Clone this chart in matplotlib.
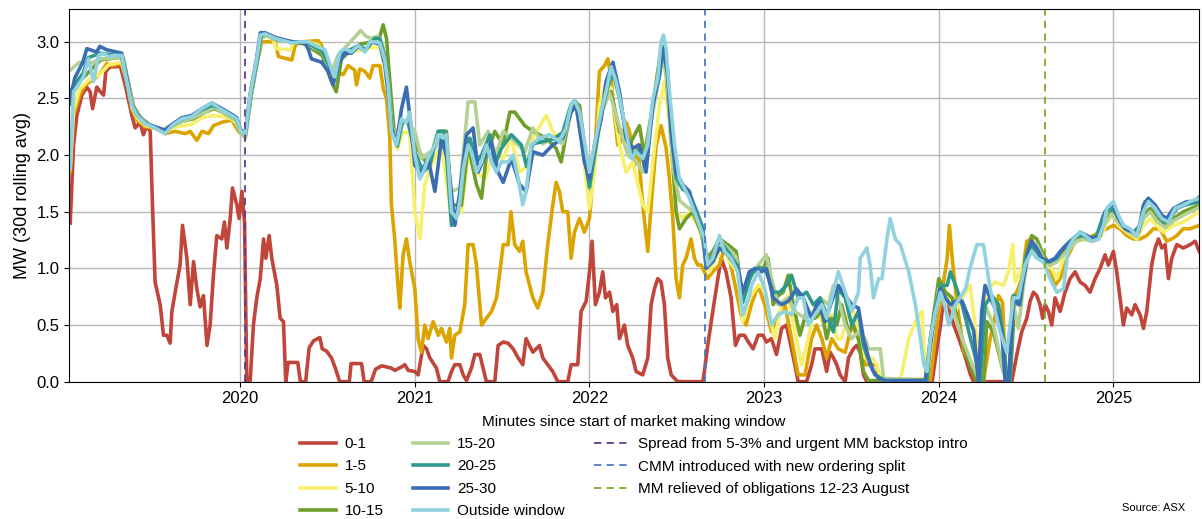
import numpy as np
import matplotlib
matplotlib.use("Agg")
import matplotlib.pyplot as plt
from matplotlib.lines import Line2D

plt.rcParams['font.family'] = ['Liberation Sans', 'DejaVu Sans']

# 30-day rolling average MW by minute bucket, (decimal year, MW)
mw_0_1 = [
    (2019.027, 1.40), (2019.046, 2.09), (2019.065, 2.35), (2019.094, 2.53), (2019.122, 2.60),
    (2019.141, 2.56), (2019.155, 2.41), (2019.179, 2.60), (2019.199, 2.56), (2019.218, 2.53),
    (2019.231, 2.74), (2019.256, 2.78), (2019.294, 2.78), (2019.313, 2.79), (2019.342, 2.62),
    (2019.380, 2.35), (2019.399, 2.24), (2019.427, 2.29), (2019.446, 2.18), (2019.465, 2.26),
    (2019.485, 2.21), (2019.498, 1.56), (2019.513, 0.88), (2019.542, 0.68), (2019.561, 0.41),
    (2019.580, 0.41), (2019.599, 0.34), (2019.609, 0.62), (2019.628, 0.79), (2019.656, 1.03),
    (2019.670, 1.38), (2019.695, 1.09), (2019.714, 0.68), (2019.733, 1.06), (2019.752, 0.82),
    (2019.771, 0.66), (2019.790, 0.76), (2019.810, 0.32), (2019.828, 0.50), (2019.847, 0.94),
    (2019.866, 1.29), (2019.895, 1.26), (2019.910, 1.41), (2019.924, 1.18), (2019.943, 1.44),
    (2019.956, 1.71), (2019.981, 1.56), (2019.994, 1.44), (2020.010, 1.68), (2020.025, 1.41),
    (2020.038, 0.00), (2020.057, 0.00), (2020.076, 0.50), (2020.095, 0.74), (2020.115, 0.91),
    (2020.134, 1.26), (2020.147, 1.09), (2020.166, 1.29), (2020.181, 1.09), (2020.210, 0.85),
    (2020.229, 0.56), (2020.248, 0.53), (2020.261, 0.00), (2020.275, 0.17), (2020.330, 0.17),
    (2020.345, 0.00), (2020.375, 0.00), (2020.395, 0.30), (2020.420, 0.36), (2020.456, 0.39),
    (2020.470, 0.29), (2020.495, 0.27), (2020.523, 0.21), (2020.545, 0.12), (2020.570, 0.00),
    (2020.625, 0.00), (2020.635, 0.16), (2020.695, 0.16), (2020.710, 0.00), (2020.750, 0.00),
    (2020.775, 0.11), (2020.811, 0.14), (2020.866, 0.12), (2020.885, 0.10), (2020.924, 0.13),
    (2020.943, 0.15), (2020.962, 0.10), (2021.000, 0.09), (2021.019, 0.06), (2021.048, 0.32),
    (2021.067, 0.29), (2021.086, 0.21), (2021.124, 0.12), (2021.143, 0.00), (2021.190, 0.00),
    (2021.210, 0.09), (2021.229, 0.15), (2021.258, 0.15), (2021.277, 0.06), (2021.296, 0.01),
    (2021.324, 0.12), (2021.344, 0.24), (2021.372, 0.24), (2021.391, 0.12), (2021.410, 0.00),
    (2021.458, 0.00), (2021.477, 0.32), (2021.506, 0.35), (2021.534, 0.34), (2021.563, 0.29),
    (2021.592, 0.21), (2021.618, 0.15), (2021.637, 0.38), (2021.656, 0.32), (2021.676, 0.26),
    (2021.714, 0.32), (2021.733, 0.21), (2021.761, 0.15), (2021.790, 0.09), (2021.819, 0.00),
    (2021.876, 0.00), (2021.895, 0.15), (2021.933, 0.15), (2021.952, 0.62), (2021.981, 0.71),
    (2022.000, 0.97), (2022.015, 1.24), (2022.034, 0.68), (2022.057, 0.79), (2022.076, 0.97),
    (2022.092, 0.74), (2022.115, 0.79), (2022.134, 0.62), (2022.156, 0.68), (2022.172, 0.38),
    (2022.200, 0.50), (2022.219, 0.32), (2022.248, 0.21), (2022.267, 0.09), (2022.305, 0.06),
    (2022.334, 0.21), (2022.353, 0.68), (2022.372, 0.82), (2022.391, 0.91), (2022.410, 0.88),
    (2022.429, 0.68), (2022.448, 0.21), (2022.468, 0.06), (2022.506, 0.00), (2022.649, 0.00),
    (2022.658, 0.09), (2022.677, 0.32), (2022.706, 0.62), (2022.735, 0.91), (2022.754, 1.09),
    (2022.782, 0.97), (2022.811, 0.74), (2022.836, 0.32), (2022.859, 0.41), (2022.887, 0.41),
    (2022.910, 0.35), (2022.937, 0.29), (2022.966, 0.41), (2022.994, 0.41), (2023.013, 0.35),
    (2023.042, 0.38), (2023.071, 0.24), (2023.100, 0.47), (2023.128, 0.50), (2023.157, 0.29),
    (2023.176, 0.15), (2023.195, 0.00), (2023.243, 0.00), (2023.272, 0.15), (2023.291, 0.29),
    (2023.330, 0.29), (2023.358, 0.09), (2023.378, 0.26), (2023.397, 0.21), (2023.416, 0.15),
    (2023.435, 0.06), (2023.464, 0.00), (2023.483, 0.21), (2023.511, 0.29), (2023.530, 0.32),
    (2023.550, 0.26), (2023.569, 0.06), (2023.588, 0.00), (2023.962, 0.00), (2023.981, 0.21),
    (2024.010, 0.50), (2024.029, 0.74), (2024.048, 0.76), (2024.067, 0.59), (2024.086, 0.50),
    (2024.115, 0.38), (2024.153, 0.21), (2024.182, 0.06), (2024.200, 0.00), (2024.418, 0.00),
    (2024.447, 0.24), (2024.475, 0.44), (2024.504, 0.56), (2024.523, 0.71), (2024.542, 0.79),
    (2024.561, 0.76), (2024.580, 0.68), (2024.595, 0.56), (2024.609, 0.68), (2024.628, 0.62),
    (2024.647, 0.50), (2024.666, 0.74), (2024.695, 0.62), (2024.723, 0.79), (2024.752, 0.91),
    (2024.781, 0.97), (2024.809, 0.88), (2024.838, 0.85), (2024.866, 0.79), (2024.895, 0.91),
    (2024.924, 1.00), (2024.952, 1.12), (2024.971, 1.03), (2025.000, 1.15), (2025.019, 0.97),
    (2025.038, 0.74), (2025.057, 0.50), (2025.076, 0.65), (2025.105, 0.59), (2025.124, 0.68),
    (2025.153, 0.59), (2025.172, 0.47), (2025.191, 0.62), (2025.219, 1.03), (2025.239, 1.18),
    (2025.258, 1.26), (2025.277, 1.18), (2025.296, 1.21), (2025.315, 0.91), (2025.334, 1.09),
    (2025.363, 1.21), (2025.400, 1.18), (2025.439, 1.21), (2025.468, 1.24), (2025.492, 1.15),
]

mw_1_5 = [
    (2019.027, 1.85), (2019.046, 2.35), (2019.084, 2.54), (2019.113, 2.62), (2019.170, 2.68),
    (2019.208, 2.74), (2019.237, 2.81), (2019.265, 2.79), (2019.323, 2.81), (2019.351, 2.65),
    (2019.380, 2.41), (2019.408, 2.31), (2019.456, 2.25), (2019.513, 2.24), (2019.571, 2.19),
    (2019.628, 2.21), (2019.685, 2.19), (2019.714, 2.21), (2019.752, 2.13), (2019.781, 2.21),
    (2019.819, 2.19), (2019.847, 2.26), (2019.895, 2.29), (2019.952, 2.31), (2019.990, 2.21),
    (2020.029, 2.16), (2020.057, 2.47), (2020.095, 2.81), (2020.124, 3.00), (2020.200, 3.00),
    (2020.219, 2.87), (2020.296, 2.84), (2020.315, 2.97), (2020.344, 3.00), (2020.447, 3.01),
    (2020.466, 2.97), (2020.523, 2.68), (2020.551, 2.74), (2020.590, 2.71), (2020.618, 2.79),
    (2020.656, 2.75), (2020.666, 2.62), (2020.685, 2.76), (2020.714, 2.74), (2020.742, 2.68),
    (2020.761, 2.79), (2020.800, 2.79), (2020.819, 2.59), (2020.838, 2.50), (2020.857, 2.15),
    (2020.866, 1.56), (2020.885, 1.26), (2020.905, 0.82), (2020.914, 0.65), (2020.933, 1.12),
    (2020.952, 1.26), (2020.971, 1.06), (2021.000, 0.82), (2021.019, 0.38), (2021.038, 0.26),
    (2021.057, 0.50), (2021.076, 0.38), (2021.105, 0.53), (2021.134, 0.41), (2021.153, 0.47),
    (2021.181, 0.35), (2021.200, 0.47), (2021.210, 0.21), (2021.229, 0.41), (2021.258, 0.44),
    (2021.286, 0.68), (2021.305, 1.21), (2021.334, 1.21), (2021.353, 1.03), (2021.382, 0.50),
    (2021.410, 0.56), (2021.439, 0.62), (2021.468, 0.74), (2021.487, 0.97), (2021.506, 1.21),
    (2021.534, 1.21), (2021.550, 1.50), (2021.572, 1.21), (2021.600, 1.15), (2021.618, 1.24),
    (2021.637, 0.97), (2021.676, 0.74), (2021.704, 0.65), (2021.733, 0.79), (2021.761, 1.21),
    (2021.790, 1.56), (2021.809, 1.76), (2021.828, 1.68), (2021.847, 1.50), (2021.876, 1.50),
    (2021.895, 1.09), (2021.914, 1.32), (2021.943, 1.44), (2021.971, 1.32), (2022.000, 1.44),
    (2022.010, 1.62), (2022.029, 1.97), (2022.057, 2.74), (2022.086, 2.79), (2022.105, 2.85),
    (2022.124, 2.68), (2022.143, 2.35), (2022.162, 2.09), (2022.181, 2.12), (2022.210, 2.29),
    (2022.229, 2.21), (2022.258, 1.91), (2022.277, 2.09), (2022.305, 1.56), (2022.334, 1.15),
    (2022.353, 1.56), (2022.382, 2.09), (2022.410, 2.26), (2022.439, 2.06), (2022.458, 1.79),
    (2022.477, 1.44), (2022.496, 0.91), (2022.515, 0.74), (2022.534, 1.03), (2022.553, 1.09),
    (2022.582, 1.26), (2022.601, 1.09), (2022.620, 1.03), (2022.639, 1.03), (2022.658, 0.97),
    (2022.677, 0.91), (2022.706, 0.97), (2022.744, 1.03), (2022.773, 1.18), (2022.801, 1.09),
    (2022.830, 0.88), (2022.868, 0.59), (2022.897, 0.50), (2022.927, 0.68), (2022.966, 0.85),
    (2023.004, 0.68), (2023.042, 0.44), (2023.080, 0.59), (2023.119, 0.68), (2023.157, 0.38),
    (2023.195, 0.06), (2023.234, 0.06), (2023.272, 0.38), (2023.300, 0.50), (2023.330, 0.38),
    (2023.358, 0.21), (2023.387, 0.38), (2023.425, 0.29), (2023.464, 0.26), (2023.502, 0.50),
    (2023.540, 0.38), (2023.579, 0.15), (2023.646, 0.15), (2023.656, 0.02), (2023.952, 0.02),
    (2023.990, 0.50), (2024.019, 0.79), (2024.048, 1.09), (2024.061, 1.38), (2024.077, 1.09),
    (2024.105, 0.68), (2024.144, 0.26), (2024.192, 0.15), (2024.218, 0.00), (2024.256, 0.00),
    (2024.294, 0.38), (2024.313, 0.50), (2024.342, 0.76), (2024.365, 0.70), (2024.385, 0.00),
    (2024.405, 0.00), (2024.420, 0.74), (2024.447, 0.79), (2024.475, 0.91), (2024.504, 1.24),
    (2024.532, 1.26), (2024.561, 1.15), (2024.599, 1.09), (2024.637, 0.97), (2024.666, 0.85),
    (2024.695, 0.91), (2024.733, 1.09), (2024.771, 1.21), (2024.809, 1.29), (2024.847, 1.26),
    (2024.885, 1.29), (2024.924, 1.32), (2024.962, 1.35), (2025.000, 1.38), (2025.038, 1.35),
    (2025.076, 1.29), (2025.115, 1.26), (2025.153, 1.26), (2025.191, 1.29), (2025.229, 1.35),
    (2025.267, 1.35), (2025.305, 1.24), (2025.334, 1.26), (2025.363, 1.29), (2025.400, 1.35),
    (2025.439, 1.35), (2025.492, 1.38),
]

mw_5_10 = [
    (2019.027, 1.90), (2019.046, 2.40), (2019.080, 2.58), (2019.130, 2.66), (2019.200, 2.72),
    (2019.250, 2.80), (2019.320, 2.82), (2019.350, 2.66), (2019.380, 2.42), (2019.410, 2.33),
    (2019.460, 2.26), (2019.520, 2.24), (2019.570, 2.20), (2019.610, 2.24), (2019.670, 2.26),
    (2019.720, 2.27), (2019.780, 2.33), (2019.840, 2.35), (2019.900, 2.34), (2019.950, 2.32),
    (2019.980, 2.28), (2020.000, 2.20), (2020.030, 2.18), (2020.060, 2.50), (2020.100, 2.85),
    (2020.120, 3.03), (2020.150, 3.05), (2020.190, 3.02), (2020.205, 2.94), (2020.290, 2.93),
    (2020.305, 3.00), (2020.390, 3.00), (2020.450, 2.97), (2020.500, 2.80), (2020.530, 2.72),
    (2020.570, 2.87), (2020.620, 2.90), (2020.660, 2.92), (2020.700, 2.93), (2020.740, 2.95),
    (2020.800, 2.95), (2020.830, 2.75), (2020.850, 2.50), (2020.870, 2.20), (2020.900, 2.05),
    (2020.930, 2.20), (2020.970, 2.20), (2021.000, 1.50), (2021.029, 1.26), (2021.057, 1.74),
    (2021.095, 1.91), (2021.153, 2.09), (2021.210, 1.44), (2021.267, 1.50), (2021.305, 2.00),
    (2021.353, 1.85), (2021.401, 1.79), (2021.458, 2.06), (2021.506, 1.97), (2021.553, 2.15),
    (2021.600, 1.85), (2021.640, 1.90), (2021.676, 2.15), (2021.752, 2.35), (2021.790, 2.21),
    (2021.838, 2.12), (2021.885, 2.38), (2021.914, 2.47), (2021.952, 2.18), (2022.000, 1.53),
    (2022.029, 1.85), (2022.057, 2.44), (2022.095, 2.65), (2022.124, 2.59), (2022.172, 2.09),
    (2022.210, 1.85), (2022.248, 1.94), (2022.305, 1.56), (2022.334, 1.50), (2022.363, 1.94),
    (2022.401, 2.44), (2022.430, 2.65), (2022.458, 2.29), (2022.477, 1.85), (2022.496, 1.50),
    (2022.534, 1.44), (2022.572, 1.50), (2022.620, 1.38), (2022.649, 1.26), (2022.687, 0.97),
    (2022.725, 1.09), (2022.763, 1.21), (2022.801, 1.06), (2022.849, 0.97), (2022.878, 0.53),
    (2022.916, 0.74), (2022.966, 0.85), (2023.004, 0.82), (2023.033, 0.56), (2023.061, 0.38),
    (2023.100, 0.68), (2023.138, 0.76), (2023.176, 0.44), (2023.214, 0.15), (2023.253, 0.38),
    (2023.282, 0.62), (2023.320, 0.56), (2023.349, 0.50), (2023.387, 0.59), (2023.416, 0.38),
    (2023.444, 0.38), (2023.464, 0.50), (2023.502, 0.68), (2023.540, 0.44), (2023.579, 0.21),
    (2023.617, 0.21), (2023.646, 0.15), (2023.665, 0.03), (2023.780, 0.01), (2023.828, 0.38),
    (2023.866, 0.53), (2023.904, 0.62), (2023.923, 0.09), (2023.952, 0.38), (2023.981, 0.59),
    (2024.019, 0.85), (2024.057, 0.74), (2024.096, 0.62), (2024.134, 0.74), (2024.179, 0.85),
    (2024.218, 0.38), (2024.237, 0.00), (2024.256, 0.53), (2024.284, 0.82), (2024.323, 0.88),
    (2024.370, 0.85), (2024.399, 0.97), (2024.424, 1.21), (2024.437, 0.88), (2024.466, 0.97),
    (2024.494, 1.09), (2024.532, 1.21), (2024.570, 1.12), (2024.609, 1.03), (2024.647, 1.00),
    (2024.676, 0.91), (2024.714, 1.09), (2024.752, 1.18), (2024.790, 1.24), (2024.838, 1.26),
    (2024.885, 1.24), (2024.933, 1.29), (2024.962, 1.41), (2025.000, 1.47), (2025.029, 1.38),
    (2025.076, 1.32), (2025.134, 1.26), (2025.172, 1.38), (2025.210, 1.44), (2025.248, 1.38),
    (2025.286, 1.32), (2025.344, 1.38), (2025.401, 1.41), (2025.492, 1.50),
]

mw_10_15 = [
    (2019.027, 2.55), (2019.050, 2.62), (2019.100, 2.68), (2019.150, 2.76), (2019.200, 2.84),
    (2019.300, 2.86), (2019.330, 2.86), (2019.360, 2.64), (2019.390, 2.43), (2019.430, 2.33),
    (2019.480, 2.27), (2019.550, 2.21), (2019.600, 2.26), (2019.670, 2.30), (2019.730, 2.32),
    (2019.800, 2.38), (2019.850, 2.41), (2019.900, 2.38), (2019.950, 2.33), (2019.980, 2.31),
    (2020.000, 2.20), (2020.030, 2.17), (2020.060, 2.50), (2020.100, 2.85), (2020.120, 3.04),
    (2020.150, 3.06), (2020.200, 3.02), (2020.300, 3.00), (2020.370, 2.98), (2020.420, 2.93),
    (2020.470, 2.88), (2020.520, 2.66), (2020.550, 2.56), (2020.580, 2.85), (2020.630, 2.92),
    (2020.690, 2.98), (2020.750, 3.00), (2020.800, 3.05), (2020.819, 3.15), (2020.838, 3.03),
    (2020.857, 2.65), (2020.885, 2.15), (2020.924, 2.30), (2020.960, 2.30), (2021.000, 2.09),
    (2021.076, 1.91), (2021.134, 2.21), (2021.181, 2.21), (2021.210, 1.56), (2021.267, 1.56),
    (2021.305, 2.09), (2021.353, 1.74), (2021.382, 1.62), (2021.410, 2.00), (2021.458, 2.21),
    (2021.506, 2.09), (2021.544, 2.38), (2021.572, 2.38), (2021.630, 2.26), (2021.676, 2.21),
    (2021.752, 2.15), (2021.809, 2.06), (2021.838, 1.94), (2021.866, 2.18), (2021.905, 2.47),
    (2021.943, 2.44), (2021.971, 2.09), (2022.000, 1.79), (2022.038, 2.15), (2022.076, 2.44),
    (2022.124, 2.56), (2022.172, 2.21), (2022.229, 2.09), (2022.286, 2.26), (2022.315, 2.00),
    (2022.363, 2.44), (2022.410, 2.94), (2022.439, 2.74), (2022.468, 2.15), (2022.496, 1.50),
    (2022.515, 1.35), (2022.553, 1.44), (2022.592, 1.50), (2022.639, 1.32), (2022.668, 1.09),
    (2022.706, 1.15), (2022.744, 1.26), (2022.792, 1.21), (2022.840, 1.15), (2022.878, 0.74),
    (2022.916, 0.97), (2022.947, 0.97), (2022.994, 1.00), (2023.023, 1.09), (2023.052, 0.68),
    (2023.080, 0.76), (2023.109, 0.79), (2023.138, 0.94), (2023.167, 0.68), (2023.205, 0.41),
    (2023.243, 0.62), (2023.291, 0.56), (2023.330, 0.62), (2023.358, 0.38), (2023.387, 0.56),
    (2023.416, 0.50), (2023.444, 0.68), (2023.483, 0.44), (2023.511, 0.50), (2023.540, 0.38),
    (2023.569, 0.09), (2023.598, 0.01), (2023.923, 0.01), (2023.952, 0.38), (2024.000, 0.91),
    (2024.038, 0.79), (2024.077, 0.74), (2024.115, 0.50), (2024.153, 0.26), (2024.192, 0.09),
    (2024.218, 0.00), (2024.256, 0.00), (2024.275, 0.53), (2024.313, 0.44), (2024.370, 0.09),
    (2024.408, 0.00), (2024.437, 0.76), (2024.466, 0.68), (2024.494, 1.09), (2024.532, 1.29),
    (2024.561, 1.26), (2024.599, 1.12), (2024.637, 1.03), (2024.676, 1.06), (2024.714, 1.15),
    (2024.752, 1.21), (2024.790, 1.26), (2024.828, 1.29), (2024.876, 1.24), (2024.914, 1.26),
    (2024.952, 1.41), (2024.990, 1.50), (2025.029, 1.41), (2025.076, 1.35), (2025.134, 1.29),
    (2025.172, 1.47), (2025.210, 1.53), (2025.248, 1.44), (2025.296, 1.38), (2025.344, 1.44),
    (2025.401, 1.50), (2025.492, 1.56),
]

mw_15_20 = [
    (2019.027, 2.75), (2019.080, 2.82), (2019.130, 2.80), (2019.200, 2.85), (2019.300, 2.86),
    (2019.330, 2.85), (2019.360, 2.62), (2019.390, 2.42), (2019.430, 2.32), (2019.480, 2.26),
    (2019.550, 2.22), (2019.600, 2.25), (2019.670, 2.30), (2019.730, 2.33), (2019.800, 2.38),
    (2019.850, 2.42), (2019.900, 2.38), (2019.950, 2.33), (2019.980, 2.30), (2020.000, 2.20),
    (2020.030, 2.15), (2020.060, 2.50), (2020.100, 2.85), (2020.120, 3.05), (2020.150, 3.06),
    (2020.200, 3.02), (2020.300, 3.00), (2020.380, 3.00), (2020.420, 2.95), (2020.470, 2.92),
    (2020.520, 2.72), (2020.560, 2.88), (2020.620, 2.98), (2020.690, 3.10), (2020.720, 3.05),
    (2020.750, 3.03), (2020.790, 3.05), (2020.820, 2.95), (2020.850, 2.60), (2020.870, 2.25),
    (2020.900, 2.15), (2020.930, 2.30), (2020.960, 2.28), (2021.000, 2.21), (2021.038, 1.97),
    (2021.115, 2.06), (2021.162, 2.21), (2021.210, 1.68), (2021.258, 1.71), (2021.286, 2.15),
    (2021.305, 2.47), (2021.344, 2.47), (2021.372, 2.09), (2021.420, 2.21), (2021.458, 1.97),
    (2021.506, 2.21), (2021.553, 2.15), (2021.630, 2.03), (2021.676, 2.24), (2021.733, 2.10),
    (2021.790, 2.15), (2021.847, 2.10), (2021.895, 2.40), (2021.924, 2.42), (2021.971, 2.00),
    (2022.000, 1.70), (2022.038, 2.10), (2022.076, 2.40), (2022.115, 2.55), (2022.162, 2.30),
    (2022.219, 2.00), (2022.267, 1.95), (2022.305, 1.85), (2022.353, 2.30), (2022.401, 2.70),
    (2022.420, 2.90), (2022.448, 2.60), (2022.477, 1.90), (2022.515, 1.60), (2022.553, 1.55),
    (2022.601, 1.50), (2022.639, 1.35), (2022.668, 1.05), (2022.706, 1.10), (2022.744, 1.25),
    (2022.792, 1.18), (2022.840, 1.10), (2022.878, 0.72), (2022.916, 0.92), (2022.966, 1.03),
    (2023.013, 1.12), (2023.042, 0.91), (2023.080, 0.68), (2023.138, 0.74), (2023.176, 0.62),
    (2023.234, 0.56), (2023.282, 0.62), (2023.320, 0.74), (2023.368, 0.68), (2023.397, 0.85),
    (2023.435, 0.68), (2023.464, 0.50), (2023.502, 0.38), (2023.540, 0.44), (2023.579, 0.38),
    (2023.598, 0.29), (2023.665, 0.29), (2023.684, 0.03), (2023.933, 0.01), (2023.962, 0.44),
    (2024.000, 0.82), (2024.038, 0.74), (2024.086, 0.62), (2024.134, 0.38), (2024.192, 0.15),
    (2024.237, 0.00), (2024.265, 0.68), (2024.313, 0.50), (2024.370, 0.09), (2024.399, 0.00),
    (2024.427, 0.68), (2024.456, 0.47), (2024.485, 0.85), (2024.523, 1.21), (2024.561, 1.21),
    (2024.599, 1.09), (2024.637, 1.03), (2024.676, 1.06), (2024.714, 1.12), (2024.752, 1.18),
    (2024.790, 1.24), (2024.828, 1.26), (2024.876, 1.24), (2024.914, 1.26), (2024.952, 1.40),
    (2024.990, 1.48), (2025.029, 1.40), (2025.076, 1.33), (2025.134, 1.28), (2025.172, 1.44),
    (2025.210, 1.50), (2025.248, 1.42), (2025.296, 1.36), (2025.344, 1.42), (2025.401, 1.47),
    (2025.492, 1.54),
]

mw_20_25 = [
    (2019.027, 2.45), (2019.050, 2.62), (2019.100, 2.72), (2019.130, 2.86), (2019.200, 2.90),
    (2019.290, 2.88), (2019.320, 2.88), (2019.350, 2.66), (2019.380, 2.44), (2019.410, 2.35),
    (2019.460, 2.28), (2019.520, 2.24), (2019.570, 2.20), (2019.610, 2.26), (2019.670, 2.32),
    (2019.720, 2.34), (2019.780, 2.40), (2019.840, 2.44), (2019.890, 2.41), (2019.950, 2.35),
    (2019.980, 2.32), (2020.000, 2.22), (2020.030, 2.18), (2020.060, 2.53), (2020.100, 2.85),
    (2020.120, 3.06), (2020.150, 3.07), (2020.200, 3.03), (2020.300, 3.00), (2020.380, 3.00),
    (2020.420, 2.96), (2020.470, 2.92), (2020.520, 2.75), (2020.550, 2.70), (2020.580, 2.90),
    (2020.630, 2.93), (2020.680, 2.97), (2020.720, 2.93), (2020.770, 3.03), (2020.800, 3.03),
    (2020.830, 2.85), (2020.850, 2.60), (2020.870, 2.20), (2020.900, 2.08), (2020.930, 2.30),
    (2020.960, 2.30), (2021.000, 2.03), (2021.048, 1.85), (2021.086, 1.91), (2021.134, 2.21),
    (2021.172, 2.21), (2021.210, 1.38), (2021.248, 1.50), (2021.277, 1.91), (2021.315, 2.15),
    (2021.353, 1.94), (2021.382, 2.00), (2021.430, 2.18), (2021.458, 1.91), (2021.496, 2.06),
    (2021.553, 2.18), (2021.610, 2.09), (2021.640, 1.90), (2021.676, 2.10), (2021.733, 2.12),
    (2021.790, 2.14), (2021.847, 2.20), (2021.895, 2.45), (2021.924, 2.47), (2021.971, 2.00),
    (2022.000, 1.72), (2022.029, 2.00), (2022.067, 2.35), (2022.105, 2.60), (2022.134, 2.74),
    (2022.172, 2.50), (2022.210, 2.20), (2022.248, 2.00), (2022.286, 2.05), (2022.324, 1.95),
    (2022.363, 2.45), (2022.401, 2.70), (2022.420, 2.96), (2022.448, 2.70), (2022.468, 2.20),
    (2022.496, 1.80), (2022.534, 1.70), (2022.572, 1.66), (2022.610, 1.52), (2022.649, 1.36),
    (2022.668, 1.05), (2022.706, 1.10), (2022.744, 1.25), (2022.792, 1.15), (2022.849, 1.02),
    (2022.878, 0.70), (2022.916, 0.90), (2022.937, 0.97), (2022.975, 1.01), (2023.013, 0.97),
    (2023.052, 0.79), (2023.090, 0.79), (2023.128, 0.85), (2023.157, 0.94), (2023.195, 0.74),
    (2023.243, 0.79), (2023.282, 0.68), (2023.320, 0.74), (2023.358, 0.59), (2023.397, 0.44),
    (2023.425, 0.82), (2023.464, 0.74), (2023.502, 0.50), (2023.540, 0.62), (2023.569, 0.32),
    (2023.607, 0.15), (2023.636, 0.06), (2023.693, 0.01), (2023.933, 0.01), (2023.952, 0.38),
    (2023.981, 0.65), (2024.010, 0.85), (2024.048, 0.85), (2024.067, 0.97), (2024.096, 0.85),
    (2024.134, 0.68), (2024.182, 0.38), (2024.210, 0.21), (2024.237, 0.00), (2024.265, 0.68),
    (2024.304, 0.76), (2024.342, 0.68), (2024.370, 0.38), (2024.389, 0.03), (2024.408, 0.00),
    (2024.427, 0.76), (2024.466, 0.68), (2024.494, 1.06), (2024.523, 1.21), (2024.561, 1.15),
    (2024.599, 1.06), (2024.637, 1.06), (2024.676, 1.09), (2024.714, 1.18), (2024.752, 1.24),
    (2024.790, 1.29), (2024.828, 1.29), (2024.866, 1.26), (2024.904, 1.29), (2024.943, 1.47),
    (2024.981, 1.53), (2025.010, 1.50), (2025.057, 1.38), (2025.115, 1.32), (2025.153, 1.38),
    (2025.181, 1.59), (2025.210, 1.59), (2025.248, 1.50), (2025.286, 1.41), (2025.324, 1.44),
    (2025.363, 1.53), (2025.410, 1.56), (2025.492, 1.59),
]

mw_25_30 = [
    (2019.027, 2.50), (2019.053, 2.68), (2019.099, 2.82), (2019.122, 2.94), (2019.179, 2.91),
    (2019.196, 2.96), (2019.236, 2.93), (2019.294, 2.91), (2019.322, 2.90), (2019.351, 2.68),
    (2019.380, 2.45), (2019.408, 2.36), (2019.456, 2.28), (2019.513, 2.25), (2019.571, 2.22),
    (2019.609, 2.27), (2019.666, 2.33), (2019.723, 2.35), (2019.781, 2.41), (2019.838, 2.46),
    (2019.885, 2.42), (2019.952, 2.36), (2019.981, 2.33), (2020.000, 2.23), (2020.029, 2.19),
    (2020.057, 2.54), (2020.095, 2.86), (2020.115, 3.08), (2020.143, 3.08), (2020.200, 3.04),
    (2020.296, 3.00), (2020.370, 2.99), (2020.389, 2.94), (2020.408, 2.85), (2020.466, 2.82),
    (2020.504, 2.74), (2020.532, 2.62), (2020.561, 2.80), (2020.599, 2.90), (2020.637, 2.90),
    (2020.676, 2.96), (2020.714, 2.92), (2020.750, 3.00), (2020.800, 2.98), (2020.828, 2.80),
    (2020.847, 2.55), (2020.866, 2.25), (2020.895, 2.10), (2020.924, 2.41), (2020.952, 2.60),
    (2020.971, 2.35), (2021.000, 1.91), (2021.038, 1.85), (2021.076, 1.97), (2021.115, 1.68),
    (2021.153, 2.15), (2021.191, 1.94), (2021.229, 1.38), (2021.258, 1.68), (2021.296, 2.18),
    (2021.334, 2.24), (2021.363, 1.85), (2021.410, 2.03), (2021.439, 2.12), (2021.477, 1.85),
    (2021.506, 1.76), (2021.553, 1.97), (2021.600, 1.74), (2021.637, 1.68), (2021.676, 2.03),
    (2021.733, 2.00), (2021.790, 2.09), (2021.847, 2.15), (2021.895, 2.38), (2021.924, 2.44),
    (2021.971, 1.94), (2022.000, 1.79), (2022.029, 2.09), (2022.067, 2.32), (2022.095, 2.65),
    (2022.134, 2.82), (2022.172, 2.56), (2022.210, 2.15), (2022.248, 2.06), (2022.286, 2.09),
    (2022.324, 1.85), (2022.363, 2.44), (2022.401, 2.74), (2022.420, 2.94), (2022.448, 2.74),
    (2022.468, 2.21), (2022.496, 1.85), (2022.534, 1.74), (2022.572, 1.68), (2022.610, 1.47),
    (2022.649, 1.32), (2022.668, 1.00), (2022.706, 1.06), (2022.744, 1.18), (2022.792, 1.12),
    (2022.849, 1.00), (2022.878, 0.79), (2022.916, 0.97), (2022.947, 1.00), (2022.985, 0.97),
    (2023.013, 1.00), (2023.052, 0.74), (2023.100, 0.68), (2023.138, 0.71), (2023.186, 0.82),
    (2023.224, 0.74), (2023.272, 0.56), (2023.310, 0.71), (2023.349, 0.53), (2023.387, 0.71),
    (2023.425, 0.85), (2023.464, 0.76), (2023.502, 0.68), (2023.540, 0.65), (2023.569, 0.38),
    (2023.598, 0.21), (2023.626, 0.09), (2023.655, 0.03), (2023.693, 0.01), (2023.923, 0.01),
    (2023.943, 0.24), (2023.971, 0.53), (2024.010, 0.82), (2024.038, 0.74), (2024.067, 0.68),
    (2024.096, 0.71), (2024.134, 0.71), (2024.200, 0.45), (2024.227, 0.00), (2024.246, 0.62),
    (2024.265, 0.85), (2024.294, 0.74), (2024.332, 0.62), (2024.361, 0.44), (2024.380, 0.00),
    (2024.400, 0.00), (2024.427, 0.74), (2024.456, 0.68), (2024.485, 0.91), (2024.513, 1.15),
    (2024.532, 1.24), (2024.561, 1.18), (2024.590, 1.09), (2024.628, 1.06), (2024.666, 1.09),
    (2024.695, 1.15), (2024.733, 1.21), (2024.771, 1.26), (2024.809, 1.32), (2024.847, 1.29),
    (2024.885, 1.26), (2024.924, 1.29), (2024.952, 1.50), (2024.981, 1.56), (2025.000, 1.56),
    (2025.029, 1.44), (2025.067, 1.35), (2025.115, 1.32), (2025.143, 1.32), (2025.172, 1.56),
    (2025.200, 1.62), (2025.239, 1.56), (2025.277, 1.47), (2025.305, 1.44), (2025.344, 1.53),
    (2025.382, 1.56), (2025.420, 1.59), (2025.458, 1.59), (2025.492, 1.63),
]

mw_outside = [
    (2019.027, 1.88), (2019.046, 2.56), (2019.074, 2.62), (2019.103, 2.69), (2019.132, 2.85),
    (2019.160, 2.65), (2019.189, 2.88), (2019.218, 2.90), (2019.246, 2.87), (2019.284, 2.88),
    (2019.323, 2.88), (2019.351, 2.65), (2019.380, 2.44), (2019.408, 2.35), (2019.456, 2.28),
    (2019.513, 2.24), (2019.571, 2.19), (2019.609, 2.26), (2019.666, 2.32), (2019.723, 2.34),
    (2019.781, 2.41), (2019.838, 2.46), (2019.885, 2.41), (2019.952, 2.35), (2019.981, 2.32),
    (2020.000, 2.22), (2020.029, 2.18), (2020.057, 2.53), (2020.095, 2.85), (2020.115, 3.06),
    (2020.143, 3.07), (2020.200, 3.03), (2020.296, 2.99), (2020.344, 3.00), (2020.389, 3.00),
    (2020.428, 2.97), (2020.485, 2.93), (2020.523, 2.76), (2020.542, 2.69), (2020.571, 2.91),
    (2020.599, 2.94), (2020.637, 2.91), (2020.676, 2.97), (2020.714, 2.91), (2020.742, 3.00),
    (2020.771, 3.00), (2020.800, 2.99), (2020.828, 2.84), (2020.847, 2.62), (2020.866, 2.21),
    (2020.895, 2.09), (2020.924, 2.32), (2020.952, 2.29), (2020.971, 2.38), (2021.000, 2.00),
    (2021.029, 1.79), (2021.048, 1.85), (2021.076, 1.97), (2021.115, 2.09), (2021.134, 2.18),
    (2021.162, 2.15), (2021.181, 2.18), (2021.210, 1.50), (2021.239, 1.44), (2021.258, 1.59),
    (2021.277, 1.88), (2021.305, 2.09), (2021.324, 2.03), (2021.353, 1.85), (2021.382, 1.94),
    (2021.410, 2.09), (2021.439, 1.94), (2021.467, 1.85), (2021.496, 1.94), (2021.534, 1.94),
    (2021.563, 2.00), (2021.592, 1.79), (2021.618, 1.56), (2021.637, 1.68), (2021.666, 2.09),
    (2021.714, 2.15), (2021.771, 2.18), (2021.828, 2.12), (2021.866, 2.24), (2021.895, 2.44),
    (2021.914, 2.49), (2021.943, 2.38), (2021.971, 2.12), (2022.000, 1.85), (2022.029, 2.09),
    (2022.067, 2.38), (2022.095, 2.56), (2022.124, 2.78), (2022.153, 2.65), (2022.181, 2.44),
    (2022.210, 2.21), (2022.239, 1.97), (2022.267, 2.03), (2022.305, 1.97), (2022.334, 2.09),
    (2022.363, 2.50), (2022.391, 2.68), (2022.410, 3.00), (2022.424, 3.06), (2022.439, 2.94),
    (2022.458, 2.56), (2022.487, 2.09), (2022.515, 1.79), (2022.553, 1.68), (2022.572, 1.62),
    (2022.601, 1.50), (2022.630, 1.38), (2022.658, 1.26), (2022.677, 1.03), (2022.706, 1.09),
    (2022.744, 1.29), (2022.773, 1.15), (2022.811, 1.09), (2022.849, 0.97), (2022.878, 0.59),
    (2022.916, 0.76), (2022.927, 0.85), (2022.966, 0.97), (2023.004, 0.82), (2023.042, 0.50),
    (2023.080, 0.59), (2023.119, 0.62), (2023.157, 0.59), (2023.195, 0.74), (2023.224, 0.74),
    (2023.253, 0.50), (2023.291, 0.59), (2023.330, 0.68), (2023.358, 0.56), (2023.387, 0.74),
    (2023.425, 0.97), (2023.464, 0.79), (2023.502, 0.62), (2023.540, 0.79), (2023.550, 1.09),
    (2023.588, 1.18), (2023.607, 1.03), (2023.626, 0.74), (2023.655, 0.91), (2023.675, 0.91),
    (2023.703, 1.26), (2023.722, 1.44), (2023.751, 1.26), (2023.780, 1.21), (2023.828, 0.97),
    (2023.866, 0.68), (2023.895, 0.38), (2023.914, 0.15), (2023.933, 0.09), (2023.952, 0.38),
    (2023.981, 0.62), (2024.010, 0.79), (2024.038, 0.65), (2024.057, 0.50), (2024.096, 0.68),
    (2024.153, 0.82), (2024.179, 1.00), (2024.218, 1.21), (2024.256, 1.21), (2024.294, 0.82),
    (2024.351, 0.44), (2024.389, 0.26), (2024.427, 0.74), (2024.456, 0.74), (2024.494, 1.03),
    (2024.532, 1.15), (2024.561, 1.09), (2024.599, 1.06), (2024.637, 0.91), (2024.676, 0.79),
    (2024.714, 0.82), (2024.742, 1.18), (2024.771, 1.26), (2024.809, 1.32), (2024.838, 1.29),
    (2024.876, 1.24), (2024.914, 1.26), (2024.943, 1.38), (2024.962, 1.53), (2025.000, 1.59),
    (2025.029, 1.47), (2025.057, 1.38), (2025.095, 1.35), (2025.134, 1.29), (2025.172, 1.50),
    (2025.200, 1.59), (2025.239, 1.53), (2025.277, 1.44), (2025.315, 1.41), (2025.353, 1.53),
    (2025.400, 1.56), (2025.439, 1.59), (2025.492, 1.62),
]

series_labels = ["0-1", "1-5", "5-10", "10-15", "15-20", "20-25", "25-30", "Outside window"]
series_data = [mw_0_1, mw_1_5, mw_5_10, mw_10_15, mw_15_20, mw_20_25, mw_25_30, mw_outside]
series_colors = ["#c0453a", "#dba400", "#f7f06c", "#6f9e2a", "#b4d095", "#2e9a8c", "#3b6db3", "#90d2de"]

event_dates = [2020.03, 2022.66, 2024.61]
event_labels = ["Spread from 5-3% and urgent MM backstop intro",
                "CMM introduced with new ordering split",
                "MM relieved of obligations 12-23 August"]
event_colors = ["#5e3c8c", "#4a78c0", "#7aab2a"]

year_ticks = [2020, 2021, 2022, 2023, 2024, 2025]

fig = plt.figure(figsize=(12.02, 5.19), dpi=100)
ax = fig.add_axes([69 / 1202, 1 - 381.7 / 519, 1130 / 1202, 372.7 / 519])

handles = []
for data, lab, col in zip(series_data, series_labels, series_colors):
    xs, ys = zip(*data)
    h, = ax.plot(xs, ys, color=col, lw=2.6, label=lab, solid_joinstyle="round")
    handles.append(h)

for d, lab, col in zip(event_dates, event_labels, event_colors):
    ax.axvline(d, color=col, lw=1.3, ls=(0, (4, 3)))
    handles.append(Line2D([], [], color=col, lw=1.3, ls=(0, (4, 3)), label=lab))

ax.set_xlim(2019.02, 2025.49)
ax.set_ylim(0, 3.29)
ax.set_xticks(year_ticks)
ax.set_xticklabels([str(y) for y in year_ticks])
ax.set_yticks(np.arange(0, 3.01, 0.5))
ax.set_yticklabels([f"{v:.1f}" for v in np.arange(0, 3.01, 0.5)])
ax.tick_params(labelsize=12)
ax.grid(True, color="#b8b8b8", lw=1.0)
ax.set_axisbelow(True)
ax.set_ylabel("MW (30d rolling avg)", fontsize=13)

fig.legend(handles=handles, loc="upper center", bbox_to_anchor=(634 / 1202, 1 - 404 / 519),
           ncol=3, frameon=False, fontsize=11,
           title="Minutes since start of market making window", title_fontsize=11,
           handlelength=2.3, handletextpad=0.6, columnspacing=1.9, labelspacing=0.55,
           borderpad=0.2)

fig.text(0.986, 0.022, "Source: ASX", ha="right", va="center", fontsize=8)

fig.savefig("out.png", dpi=100)
